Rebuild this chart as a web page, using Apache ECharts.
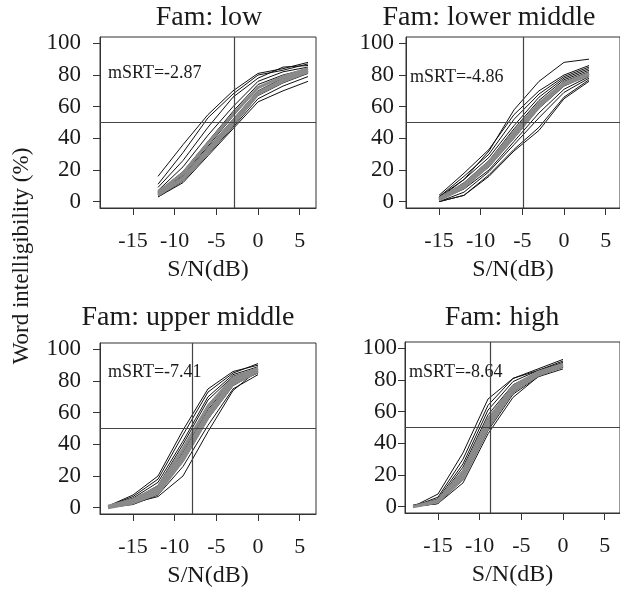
<!DOCTYPE html>
<html>
<head>
<meta charset="utf-8">
<script src="https://cdn.jsdelivr.net/npm/echarts@6/dist/echarts.min.js"></script>
<style>
  html, body { margin: 0; padding: 0; background: #fff; }
  #chart { width: 620px; height: 592px; }
</style>
</head>
<body>
<div id="chart"></div>
<script>
// tick labels
const xTicks = [-15, -10, -5, 0, 5]
const yTicks = [0, 20, 40, 60, 80, 100]

const panelTitles = ['Fam: low', 'Fam: lower middle', 'Fam: upper middle', 'Fam: high']
const mSRT = [-2.87, -4.86, -7.41, -8.64]
// where the vertical line sits in the picture
const srtLineX = [-2.85, -4.9, -7.85, -8.75]
const refLevel = 50

// S/N steps per panel
const snrLow = [-12, -9, -6, -3, 0, 3, 6]
const snrLowerMid = [-15, -12, -9, -6, -3, 0, 3]
const snrUpperMid = [-18, -15, -12, -9, -6, -3, 0]
const snrHigh = [-18, -15, -12, -9, -6, -3, 0]

// intelligibility (%) per listener, black = thin lines, grey = thick grey lines
const lowBlack = [
  [16, 36, 55, 70, 81, 84, 88],
  [11, 31, 53, 68, 80, 83, 87],
  [9, 26, 47, 66, 78, 85, 86],
  [7, 22, 42, 60, 76, 82, 85],
  [6, 19, 38, 57, 74, 80, 84],
  [5, 17, 35, 54, 72, 79, 84],
  [5, 16, 34, 52, 70, 78, 83],
  [4, 15, 33, 51, 69, 77, 82],
  [4, 14, 31, 48, 67, 75, 81],
  [3, 13, 30, 47, 65, 73, 79],
  [3, 12, 29, 46, 63, 70, 76],
]
const lowGrey = [
  [6, 18, 37, 55, 72, 79, 84],
  [5, 15, 33, 51, 69, 77, 83],
  [4, 14, 31, 49, 68, 76, 82],
]

const lowerMidBlack = [
  [2, 14, 32, 58, 76, 88, 90],
  [4, 18, 33, 55, 70, 80, 86],
  [3, 16, 30, 52, 68, 79, 85],
  [3, 14, 28, 48, 66, 78, 84],
  [2, 12, 26, 46, 64, 77, 83],
  [2, 11, 25, 44, 62, 76, 82],
  [1, 10, 24, 42, 61, 75, 81],
  [1, 9, 22, 40, 59, 73, 80],
  [1, 8, 20, 38, 56, 71, 79],
  [0, 6, 19, 36, 53, 69, 78],
  [0, 4, 17, 33, 47, 66, 77],
  [0, 4, 16, 32, 45, 65, 76],
]
const lowerMidGrey = [
  [2, 11, 25, 44, 62, 75, 81],
  [1, 9, 23, 41, 60, 74, 80],
]

const upperMidBlack = [
  [1, 8, 20, 49, 75, 86, 90],
  [1, 7, 18, 46, 73, 85, 91],
  [1, 6, 16, 42, 70, 84, 89],
  [0, 5, 14, 40, 68, 83, 88],
  [0, 5, 13, 37, 65, 82, 87],
  [0, 4, 12, 35, 62, 81, 88],
  [0, 4, 11, 33, 60, 80, 86],
  [0, 3, 10, 31, 58, 78, 85],
  [0, 3, 9, 29, 56, 77, 86],
  [0, 2, 8, 26, 52, 75, 84],
  [0, 3, 7, 20, 48, 74, 87],
]
const upperMidGrey = [
  [0, 4, 11, 33, 60, 80, 87],
  [0, 3, 9, 30, 57, 78, 86],
  [1, 5, 13, 37, 64, 82, 88],
]

const highBlack = [
  [0, 8, 34, 68, 81, 86, 92],
  [0, 6, 30, 64, 81, 87, 93],
  [0, 5, 27, 61, 79, 86, 91],
  [1, 4, 25, 58, 77, 85, 90],
  [0, 4, 23, 56, 76, 85, 91],
  [0, 3, 21, 54, 75, 84, 89],
  [0, 3, 20, 52, 74, 84, 90],
  [0, 2, 18, 50, 72, 83, 88],
  [0, 2, 17, 48, 71, 82, 89],
  [0, 2, 15, 46, 69, 82, 87],
]
const highGrey = [
  [0, 3, 20, 53, 74, 84, 89],
  [0, 3, 18, 50, 73, 83, 89],
  [0, 4, 22, 55, 76, 85, 90],
]

const panels = [
  { xs: snrLow, black: lowBlack, grey: lowGrey },
  { xs: snrLowerMid, black: lowerMidBlack, grey: lowerMidGrey },
  { xs: snrUpperMid, black: upperMidBlack, grey: upperMidGrey },
  { xs: snrHigh, black: highBlack, grey: highGrey },
]

const font = 'Liberation Serif'
const ink = '#1a1a1a'

// box positions (px) of the four panels; right panels are cut by the page edge
const boxes = [
  { left: 100, top: 37, width: 216, height: 171, xMax: 6.96 },
  { left: 406, top: 37, width: 214, height: 171, xMax: 6.72 },
  { left: 100, top: 343, width: 216, height: 171, xMax: 6.96 },
  { left: 405, top: 342, width: 215, height: 171, xMax: 6.84 },
]
const yLabelMargin = [19, 12, 19, 8]

// all listeners of one panel in one series, a null point breaks the line between them
function joinRows(xs, rows) {
  let out = []
  rows.forEach((row, r) => {
    if (r > 0) out.push([null, null])
    xs.forEach((x, i) => out.push([x, row[i]]))
  })
  return out
}

let grid = []
let xAxis = []
let yAxis = []
let series = []

boxes.forEach((b, k) => {
  grid.push({
    left: b.left, top: b.top, width: b.width, height: b.height,
    show: true, borderColor: '#333', borderWidth: 1,
  })
  xAxis.push({
    gridIndex: k,
    type: 'value',
    min: -18.96,
    max: b.xMax,
    name: 'S/N(dB)',
    nameLocation: 'middle',
    nameGap: 50,
    nameTextStyle: { fontFamily: font, fontSize: 24, color: ink },
    axisLine: { show: true, onZero: false, lineStyle: { color: '#333', width: 1 } },
    splitLine: { show: false },
    axisTick: { show: true, length: 7, customValues: xTicks },
    axisLabel: { customValues: xTicks, margin: 22, fontFamily: font, fontSize: 22, color: ink },
  })
  yAxis.push({
    gridIndex: k,
    type: 'value',
    min: -4,
    max: 104,
    axisLine: { show: true, onZero: false, lineStyle: { color: '#333', width: 1 } },
    splitLine: { show: false },
    axisTick: { show: true, length: 7, customValues: yTicks },
    axisLabel: { customValues: yTicks, margin: yLabelMargin[k], fontFamily: font, fontSize: 23, color: ink },
  })

  const p = panels[k]
  series.push({
    type: 'line', xAxisIndex: k, yAxisIndex: k, symbol: 'none', silent: true,
    connectNulls: false,
    data: joinRows(p.xs, p.black),
    lineStyle: { color: '#111', width: 1 },
    markLine: {
      symbol: 'none', silent: true,
      label: { show: false },
      lineStyle: { color: '#444', type: 'solid', width: 1.2 },
      data: [{ yAxis: refLevel }, { xAxis: srtLineX[k] }],
    },
  })
  //灰色粗線疊在黑線上
  series.push({
    type: 'line', xAxisIndex: k, yAxisIndex: k, symbol: 'none', silent: true,
    connectNulls: false,
    data: joinRows(p.xs, p.grey),
    lineStyle: { color: '#8a8a8a', width: 3 },
  })
})

const titlePos = [[209, 18], [489, 18], [188, 318], [502, 318]]
const srtPos = [[108, 73], [410, 77], [108, 372], [409, 372]]

let graphic = []
panelTitles.forEach((t, k) => {
  graphic.push({
    type: 'text', x: titlePos[k][0], y: titlePos[k][1],
    style: { text: t, fontFamily: font, fontSize: 28, fill: ink, align: 'center', verticalAlign: 'middle' },
  })
  graphic.push({
    type: 'text', x: srtPos[k][0], y: srtPos[k][1],
    style: { text: 'mSRT=' + mSRT[k].toFixed(2), fontFamily: font, fontSize: 18, fill: ink, align: 'left', verticalAlign: 'middle' },
  })
})
graphic.push({
  type: 'text', x: 22, y: 256, rotation: Math.PI / 2,
  style: { text: 'Word intelligibility (%)', fontFamily: font, fontSize: 23, fill: ink, align: 'center', verticalAlign: 'middle' },
})

let mycharts = echarts.init(document.getElementById('chart'))
mycharts.setOption({
  animation: false,
  backgroundColor: '#fff',
  grid,
  xAxis,
  yAxis,
  series,
  graphic,
})
</script>
</body>
</html>
